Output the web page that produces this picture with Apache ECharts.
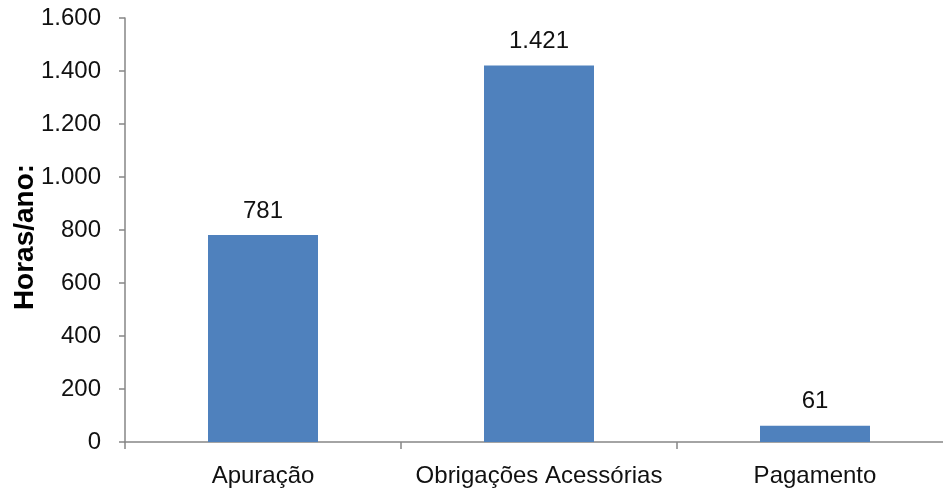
<!DOCTYPE html>
<html>
<head>
<meta charset="utf-8">
<script src="https://cdn.jsdelivr.net/npm/echarts@6/dist/echarts.min.js"></script>
<style>
  html, body { margin: 0; padding: 0; background: #fff; }
  #chart { width: 943px; height: 496px; }
</style>
</head>
<body>
<div id="chart"></div>
<script>
// dados do gráfico
const categories = ['Apuração', 'Obrigações Acessórias', 'Pagamento'];
const horas = [781, 1421, 61];
const yName = 'Horas/ano:';

const fmt = v => String(v).replace(/\B(?=(\d{3})+(?!\d))/g, '.');

const chart = echarts.init(document.getElementById('chart'));

chart.setOption({
  backgroundColor: '#ffffff',
  animation: false,
  textStyle: { fontFamily: 'Liberation Sans' },
  // a area do grafico passa um pouco da borda direita, como no original
  grid: { left: 125, top: 18, width: 828, height: 424, outerBoundsMode: 'none', containLabel: false },
  xAxis: {
    type: 'category',
    data: categories,
    axisLine: { lineStyle: { color: '#868686', width: 1.5 } },
    axisTick: { show: true, length: 7, lineStyle: { color: '#868686', width: 1.5 } },
    axisLabel: { color: '#111', fontSize: 24, margin: 22, interval: 0 }
  },
  yAxis: {
    type: 'value',
    min: 0,
    max: 1600,
    interval: 200,
    name: yName,
    nameLocation: 'middle',
    nameGap: 86,
    nameMoveOverlap: false,
    nameTextStyle: { fontSize: 28, fontWeight: 'bold', color: '#000', padding: [0, 14, 0, 0] },
    axisLine: { show: true, lineStyle: { color: '#868686', width: 1.5 } },
    axisTick: { show: true, length: 6, lineStyle: { color: '#868686', width: 1.5 } },
    splitLine: { show: false },
    axisLabel: { color: '#111', fontSize: 24, margin: 24, formatter: fmt }
  },
  series: [{
    type: 'bar',
    data: horas,
    barWidth: 110,
    itemStyle: { color: '#4F81BD' },
    label: {
      show: true,
      position: 'top',
      distance: 12,
      color: '#111',
      fontSize: 24,
      formatter: p => fmt(p.value)
    }
  }]
});
</script>
</body>
</html>
